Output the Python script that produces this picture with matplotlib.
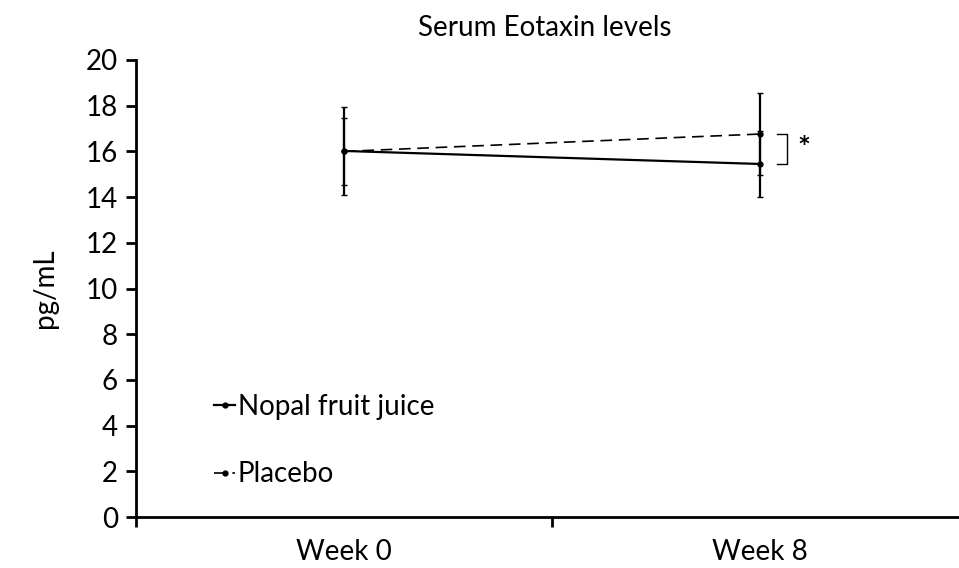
import matplotlib.pyplot as plt

plt.rcParams['font.family'] = ['Lato', 'DejaVu Sans']

# data
weeks = ["Week 0", "Week 8"]
nopal_mean = [16.02, 15.45]
nopal_err = [1.92, 1.45]
placebo_mean = [16.0, 16.76]
placebo_err = [1.47, 1.8]
y_ticks = [0, 2, 4, 6, 8, 10, 12, 14, 16, 18, 20]

fig = plt.figure(figsize=(9.59, 5.68), dpi=100)
ax = fig.add_axes([136 / 959, 1 - 517 / 568, 832 / 959, 457 / 568])

x = list(range(len(weeks)))

# error bars first, lines with legend labels on top
ax.errorbar(x, nopal_mean, yerr=nopal_err, fmt='none', ecolor='black',
            capsize=2, elinewidth=1.6)
ax.errorbar(x, placebo_mean, yerr=placebo_err, fmt='none', ecolor='black',
            capsize=2, elinewidth=1.6)
ax.plot(x, nopal_mean, color='black', lw=1.6, marker='o', ms=3.5,
        label='Nopal fruit juice')
ax.plot(x, placebo_mean, color='black', lw=1.2, ls=(0, (7, 4)),
        marker='o', ms=3.5, label='Placebo')

# significance bracket at week 8
bx = x[1] + 0.04
ax.plot([bx, bx + 0.025, bx + 0.025, bx],
        [placebo_mean[1], placebo_mean[1], nopal_mean[1], nopal_mean[1]],
        color='black', lw=1.0)
ax.text(bx + 0.065, (placebo_mean[1] + nopal_mean[1]) / 2, '*',
        fontsize=22, ha='center', va='center', fontweight='bold')

ax.set_xlim(-0.5, 1.5)
ax.set_ylim(0, 20)
ax.set_yticks(y_ticks)
ax.set_xticks(x)
ax.set_xticklabels(weeks)
ax.set_xticks([-0.5, 0.5, 1.5], minor=True)
ax.tick_params(axis='x', which='major', length=0, pad=16, labelsize=20)
ax.tick_params(axis='x', which='minor', length=7, width=2, direction='out')
ax.tick_params(axis='y', length=7, width=2, labelsize=20, pad=6)

for s in ['top', 'right']:
    ax.spines[s].set_visible(False)
for s in ['left', 'bottom']:
    ax.spines[s].set_linewidth(2)

ax.set_ylabel('pg/mL', fontsize=20, labelpad=20)
fig.text(545 / 959, 1 - 28 / 568, 'Serum Eotaxin levels', fontsize=20,
         ha='center', va='center')

ax.legend(loc='upper left', bbox_to_anchor=(0.094, 0.27), frameon=False,
          handlelength=0.75, handletextpad=0.1, labelspacing=1.5,
          fontsize=20, borderaxespad=0, borderpad=0)

fig.savefig('out.png', dpi=100)
